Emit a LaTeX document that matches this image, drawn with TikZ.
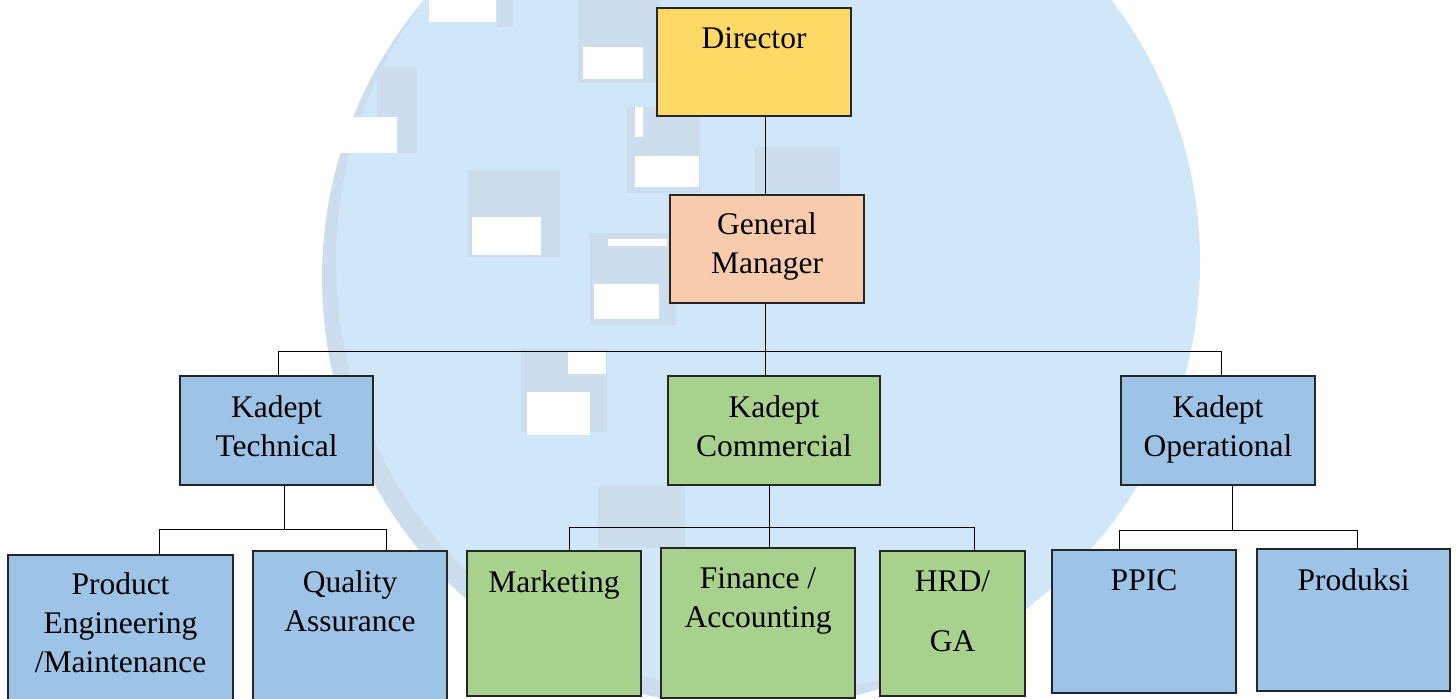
\documentclass[tikz,border=0pt]{standalone}
\usepackage{fontspec}
\setmainfont{Liberation Serif}

\definecolor{wmblue}{HTML}{CFE7F9}
\definecolor{wmgrey}{HTML}{CCDEEE}
\definecolor{dirgold}{HTML}{FFD966}
\definecolor{gmpeach}{HTML}{F8CBAD}
\definecolor{deptblue}{HTML}{9DC3E6}
\definecolor{deptgreen}{HTML}{A9D18E}

\tikzset{
  unit/.style={draw=black!85, line width=0.6pt, fill=#1},
  unittext/.style={anchor=north, yshift=-10pt, inner sep=0pt, align=center,
    font=\fontsize{15.75pt}{19.5pt}\selectfont},
  link/.style={line width=0.5pt}
}

\begin{document}
\begin{tikzpicture}[x=0.5pt, y=-0.5pt]
\useasboundingbox (0,0) rectangle (1456,699);
\clip (0,0) rectangle (1456,699);

% Watermark circle
\fill[wmgrey] (752,278) circle (215pt);
\fill[wmblue] (768,262) circle (216pt);

% Watermark blocks
\foreach \xa/\ya/\xb/\yb in {578/0/660/83, 497/0/513/27, 377/67/417/153,
    468/170/560/257, 627/107/700/193, 755/147/840/193, 590/233/676/325,
    521/348/607/432, 598/486/685/548}
  \fill[wmgrey] (\xa,\ya) rectangle (\xb,\yb);
\foreach \xa/\ya/\xb/\yb in {429/0/496/22, 320/117/397/153, 583/47/643/79,
    635/107/643/137, 635/156/699/187, 472/217/541/255, 608/239/667/246,
    594/284/659/319, 568/352/606/374, 527/392/590/435}
  \fill[white] (\xa,\ya) rectangle (\xb,\yb);

% Top levels
\node[unit=dirgold, minimum width=97pt, minimum height=54pt,
  label={[unittext]north:Director}] (dir) at (754,62) {};
\node[unit=gmpeach, minimum width=97pt, minimum height=54pt,
  label={[unittext, yshift=1pt]north:General\\Manager}] (gm) at (767,249) {};

% Kadept level
\node[unit=deptblue, minimum width=96.5pt, minimum height=54.5pt,
  label={[unittext]north:Kadept\\Technical}] (tech) at (276.5,430.5) {};
\node[unit=deptgreen, minimum width=106pt, minimum height=54.5pt,
  label={[unittext]north:Kadept\\Commercial}] (comm) at (774,430.5) {};
\node[unit=deptblue, minimum width=97pt, minimum height=54.5pt,
  label={[unittext]north:Kadept\\Operational}] (oper) at (1218,430.5) {};

% Sections
\node[unit=deptblue, minimum width=112.5pt, minimum height=80pt,
  label={[unittext, yshift=1pt]north:Product\\Engineering\\/Maintenance}] (prod) at (120.5,635) {};
\node[unit=deptblue, minimum width=97pt, minimum height=80pt,
  label={[unittext]north:Quality\\Assurance}] (qa) at (350,631) {};
\node[unit=deptgreen, minimum width=87pt, minimum height=72.5pt,
  label={[unittext]north:Marketing}] (mkt) at (554,623.5) {};
\node[unit=deptgreen, minimum width=97pt, minimum height=75pt,
  label={[unittext]north:Finance /\\Accounting}] (fin) at (758,623) {};
\node[unit=deptgreen, minimum width=72.5pt, minimum height=72.5pt,
  label={[unittext]north:HRD/\\[10.5pt]GA}] (hrd) at (952.5,623.5) {};
\node[unit=deptblue, minimum width=92pt, minimum height=71.5pt,
  label={[unittext]north:PPIC}] (ppic) at (1144,621.5) {};
\node[unit=deptblue, minimum width=96.5pt, minimum height=71pt,
  label={[unittext]north:Produksi}] (prd) at (1353.5,620) {};

% Bus points
\coordinate (gj) at (765,352);
\coordinate (gl) at (278,352);
\coordinate (gr) at (1221,352);
\coordinate (tj) at (284,530);
\coordinate (tl) at (159,530);
\coordinate (tr) at (386,530);
\coordinate (cj) at (769,528);
\coordinate (cl) at (569,528);
\coordinate (cr) at (974,528);
\coordinate (oj) at (1232,531);
\coordinate (ol) at (1119,531);
\coordinate (or) at (1357,531);

% Connectors
\draw[link] (gj |- dir.south) -- (gj |- gm.north);
\draw[link] (gj |- gm.south) -- (gj |- comm.north);
\draw[link] (gl |- tech.north) -- (gl) -- (gr) -- (gr |- oper.north);

\draw[link] (tj |- tech.south) -- (tj);
\draw[link] (tl |- prod.north) -- (tl) -- (tr) -- (tr |- qa.north);

\draw[link] (cj |- comm.south) -- (cj |- fin.north);
\draw[link] (cl |- mkt.north) -- (cl) -- (cr) -- (cr |- hrd.north);

\draw[link] (oj |- oper.south) -- (oj);
\draw[link] (ol |- ppic.north) -- (ol) -- (or) -- (or |- prd.north);

\end{tikzpicture}
\end{document}
